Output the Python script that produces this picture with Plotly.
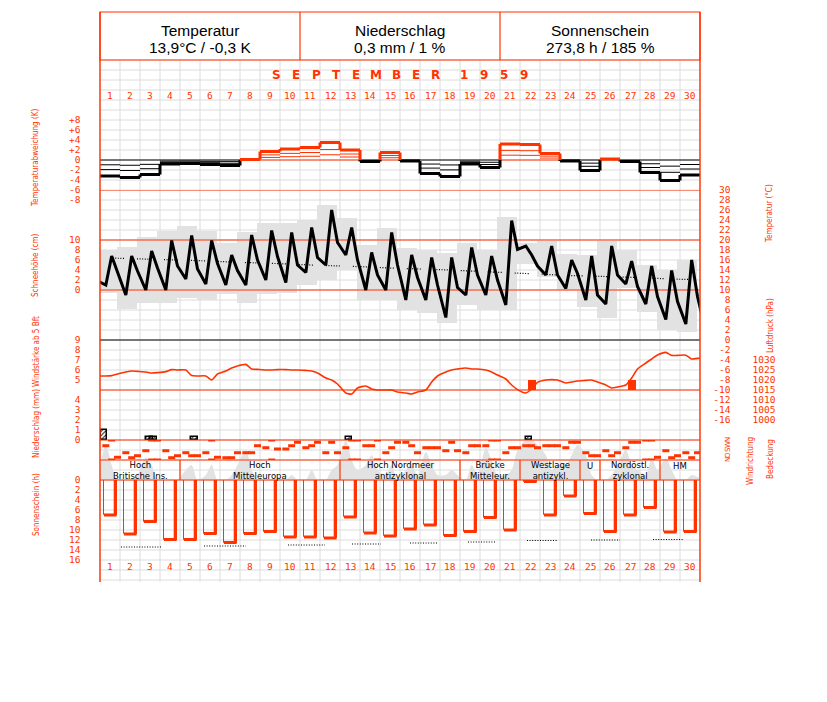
import plotly.graph_objects as go

W, H = 827, 702
RED = '#ff3300'
GRID = '#dcdcdc'
FILL = '#e2e2e2'
TICKFONT = 'DejaVu Sans Mono'
NARROW = 'Liberation Sans Narrow, DejaVu Sans Condensed, Arial Narrow, sans-serif'


def xp(px):
    return px / W


def yp(py):
    return 1 - py / H


# ---------------- data ----------------
days = list(range(1, 31))
obs_hours = [7, 14, 21]

header_titles = ['Temperatur', 'Niederschlag', 'Sonnenschein']
header_values = ['13,9°C / -0,3 K', '0,3 mm / 1 %', '273,8 h / 185 %']
month_title = 'SEPTEMBER'
year_title = '1959'

# daily temperature anomaly (K)
anom = [-3.2, -3.5, -2.9, -0.8, -0.7, -0.9, -1.1, 0.1, 1.7, 2.2,
        2.5, 3.5, 2.0, -0.3, 1.5, -0.2, -2.7, -3.3, -0.8, -1.5,
        3.2, 3.1, 1.3, -0.2, -2.1, 0.2, -0.3, -2.5, -4.1, -3.0]

# temperature at 7h, 14h, 21h (°C)
t07 = [11.0, 9.0, 10.0, 10.0, 12.2, 11.2, 11.0, 11.0, 12.0, 11.5,
       13.5, 15.0, 17.0, 10.0, 10.0, 8.0, 8.0, 4.5, 9.0, 9.0,
       7.0, 18.8, 13.0, 10.3, 8.0, 7.2, 11.2, 7.2, 4.1, 3.2]
t14 = [16.8, 16.8, 17.8, 19.9, 20.9, 19.9, 17.0, 21.0, 21.9, 21.5,
       22.5, 26.0, 22.5, 17.5, 21.5, 17.0, 16.5, 16.5, 18.5, 16.8,
       23.9, 17.0, 18.8, 16.0, 16.8, 18.8, 15.8, 14.8, 13.9, 16.0]
t21 = [13.4, 13.8, 14.4, 14.8, 14.2, 15.3, 13.9, 16.0, 16.7, 15.0,
       16.5, 19.5, 16.0, 13.0, 15.0, 12.5, 11.0, 10.5, 13.0, 12.0,
       18.1, 14.8, 13.0, 13.3, 9.0, 13.0, 10.7, 8.7, 7.7, 8.7]
t_prev21 = 11.8
t_next07 = 1.5

# daily extremes (°C)
tmax = [18.0, 18.7, 20.7, 21.9, 22.8, 21.9, 19.5, 21.7, 23.5, 23.5,
        24.0, 27.0, 24.5, 19.0, 22.5, 18.5, 18.0, 17.5, 19.5, 18.1,
        24.7, 19.5, 19.8, 17.2, 17.0, 19.8, 18.1, 15.0, 14.1, 16.0]
tmin = [9.4, 6.3, 7.5, 7.5, 8.5, 8.0, 9.3, 7.5, 9.3, 9.5,
        11.0, 12.0, 14.0, 8.0, 8.0, 6.0, 5.5, 3.5, 7.0, 6.0,
        6.0, 15.3, 12.7, 10.0, 6.7, 4.5, 10.5, 5.7, 2.0, 1.7]

# long-term mean temperature (°C)
t_norm = [16.4, 16.3, 16.2, 16.0, 15.9, 15.8, 15.6, 15.5, 15.3, 15.2,
          15.0, 14.9, 14.7, 14.6, 14.4, 14.3, 14.1, 14.0, 13.8, 13.6,
          13.4, 13.2, 13.1, 12.9, 12.8, 12.7, 12.5, 12.4, 12.2, 12.1]

# air pressure at 7h, 14h, 21h (hPa)
p07 = [1022.0, 1024.0, 1024.0, 1024.2, 1025.0, 1022.0, 1024.5, 1027.8, 1025.0, 1025.2,
       1024.8, 1021.0, 1013.5, 1017.0, 1015.0, 1013.5, 1015.0, 1024.0, 1026.0, 1025.0,
       1020.5, 1013.5, 1020.0, 1018.5, 1019.8, 1017.5, 1017.5, 1028.5, 1033.8, 1032.4]
p14 = [1022.2, 1024.5, 1023.5, 1025.2, 1022.2, 1020.0, 1026.0, 1025.5, 1025.0, 1025.0,
       1024.5, 1020.0, 1013.0, 1015.5, 1015.0, 1013.0, 1019.0, 1025.0, 1025.5, 1024.0,
       1017.5, 1015.5, 1020.2, 1019.0, 1020.0, 1016.0, 1021.0, 1030.5, 1032.3, 1030.5]
p21 = [1023.0, 1024.3, 1023.7, 1025.0, 1022.0, 1023.0, 1027.0, 1025.3, 1025.2, 1025.0,
       1023.5, 1018.0, 1016.0, 1015.0, 1014.0, 1014.0, 1022.0, 1025.5, 1025.5, 1022.5,
       1015.2, 1018.8, 1020.0, 1019.5, 1019.0, 1016.5, 1025.5, 1032.5, 1032.3, 1030.8]
p_prev21 = 1022.0
p_next07 = 1031.0

# wind force >= 5 Bft
wind_day = [22, 27]
wind_hour = [14, 14]
wind_bft = [5, 5]

# precipitation events
precip_day = [1, 3, 3, 5, 13, 22]
precip_hour = [4.5, 11.5, 16.0, 17.5, 10.5, 10.5]
precip_mm = [1.0, 0.3, 0.3, 0.3, 0.3, 0.3]

# wind direction at 7h, 14h, 21h (degrees, 0 = north)
wd07 = [257, 131, 167, 167, 131, 131, 41, 131, 221, 198,
        221, 131, 221, 257, 131, 319, 221, 167, 131, 257,
        131, 257, 257, 221, 131, 167, 221, 0, 167, 131]
wd14 = [0, 41, 0, 41, 77, 0, 41, 131, 0, 257,
        257, 319, 0, 257, 221, 257, 221, 319, 257, 0,
        221, 257, 257, 319, 77, 77, 319, 0, 41, 41]
wd21 = [49, 77, 0, 77, 77, 49, 131, 257, 198, 319,
        319, 131, 0, 0, 319, 131, 221, 167, 257, 0,
        221, 221, 257, 319, 77, 131, 319, 49, 77, 131]

# cloud cover at 7h, 14h, 21h (octas)
cc07 = [7, 0, 4.5, 0, 2, 1, 0, 6, 0, 0,
        0, 0, 8, 3, 1, 2, 5.6, 1, 0, 6.4,
        1, 8, 5, 3, 5, 0, 6, 1, 4.4, 0]
cc14 = [3, 0, 3, 0, 3, 3, 1, 2, 0, 1,
        2, 2, 4, 5, 3, 3, 3, 2, 3, 4,
        2, 8, 2, 5, 1, 1, 3, 4.4, 2, 1]
cc21 = [0, 1, 0, 0, 0, 0, 3, 0, 0, 0,
        0, 3, 2, 2, 0, 1, 1, 1, 1, 1,
        6, 7, 3, 7, 0, 3, 2, 2, 0, 0.6]

# sunshine duration (h)
sun = [7.0, 10.8, 8.3, 11.9, 11.9, 10.7, 12.5, 10.7, 10.3, 11.4,
       11.4, 11.6, 7.4, 10.6, 11.2, 9.8, 9.0, 11.1, 10.3, 7.5,
       10.0, 0.3, 7.0, 3.2, 6.7, 10.3, 7.0, 5.5, 10.4, 10.3]

# possible sunshine (h) for periods
sun_norm_start = [1.05, 5.2, 9.4, 12.6, 15.5, 18.4, 21.35, 24.55, 27.65]
sun_norm_end = [3.1, 7.3, 11.25, 14.05, 16.9, 19.8, 22.9, 26.0, 29.2]
sun_norm = [13.4, 13.2, 13.0, 12.8, 12.6, 12.4, 12.1, 12.0, 11.9]

# weather types
wt_start = [1, 5, 13, 19, 22, 25, 26, 29]
wt_end = [4, 12, 18, 21, 24, 25, 28, 30]
wt_line1 = ['Hoch', 'Hoch', 'Hoch Nordmeer', 'Brücke', 'Westlage', 'U', 'Nordöstl.', 'HM']
wt_line2 = ['Britische Ins.', 'Mitteleuropa', 'antizyklonal', 'Mitteleur.', 'antizykl.', '', 'zyklonal', '']

dir_labels = ['N', 'W', 'S', 'O', 'N']
dir_values = [360, 270, 180, 90, 0]


# ---------------- helpers ----------------
def obs_series(a07, a14, a21, prev=None, nxt=None):
    xs, ys = [], []
    if prev is not None:
        xs.append(-3 / 24)
        ys.append(prev)
    for i, d in enumerate(days):
        for h, arr in zip(obs_hours, (a07, a14, a21)):
            xs.append(d - 1 + h / 24)
            ys.append(arr[i])
    if nxt is not None:
        xs.append(30 + 7 / 24)
        ys.append(nxt)
    return xs, ys


fig = go.Figure()

# ---------- temperature anomaly (axis y) ----------
thick = {'red': ([], []), 'black': ([], [])}
thin = {'red': ([], []), 'black': ([], [])}


def add(dct, key, x, y):
    dct[key][0].extend(x + [None])
    dct[key][1].extend(y + [None])


for i, d in enumerate(days):
    a = anom[i]
    col = 'red' if a > 0 else 'black'
    add(thick, col, [d - 1, d], [a, a])
    for f in (0.0, 0.3, 0.6):
        add(thin, col, [d - 1, d], [a * f, a * f])
    if i < len(days) - 1:
        b = anom[i + 1]
        lo, hi = min(a, b), max(a, b)
        if hi > 0 and lo > 0:
            add(thick, 'red', [d, d], [lo, hi])
        elif hi <= 0:
            add(thick, 'black', [d, d], [lo, hi])
        else:
            add(thick, 'red', [d, d], [0, hi])
            if lo < 0:
                add(thick, 'black', [d, d], [lo, 0])

for key, c in (('black', 'black'), ('red', RED)):
    fig.add_trace(go.Scatter(x=thin[key][0], y=thin[key][1], mode='lines',
                             line=dict(color=c, width=1), yaxis='y', hoverinfo='skip'))
for key, c in (('black', 'black'), ('red', RED)):
    fig.add_trace(go.Scatter(x=thick[key][0], y=thick[key][1], mode='lines',
                             line=dict(color=c, width=3), yaxis='y', hoverinfo='skip'))

# ---------- temperature (axis y2) ----------
fig.add_trace(go.Bar(x=[d - 0.5 - 0.15 for d in days],
                     y=[mx - mn for mx, mn in zip(tmax, tmin)], base=tmin,
                     width=1.0, marker=dict(color=FILL, line=dict(width=0)),
                     yaxis='y2', hoverinfo='skip'))
for lvl, c in ((30, RED), (20, RED), (10, RED), (0, 'black'), (-10, RED)):
    fig.add_trace(go.Scatter(x=[0, 30], y=[lvl, lvl], mode='lines',
                             line=dict(color=c, width=1.2), yaxis='y2', hoverinfo='skip'))
dotdash = ','.join(['1px,1.6px'] * 5) + ',1px,13px'
fig.add_trace(go.Scatter(x=[d - 0.5 for d in days], y=t_norm, mode='lines',
                         line=dict(color='black', width=1.2, dash=dotdash),
                         yaxis='y2', hoverinfo='skip'))
tx, ty = obs_series(t07, t14, t21, t_prev21, t_next07)
fig.add_trace(go.Scatter(x=tx, y=ty, mode='lines', line=dict(color='black', width=3),
                         yaxis='y2', hoverinfo='skip'))

# ---------- snow axis (labels only, y3) ----------
fig.add_trace(go.Scatter(x=[0], y=[0], mode='lines', yaxis='y3', hoverinfo='skip'))

# ---------- pressure (y4) ----------
px_, py_ = obs_series(p07, p14, p21, p_prev21, p_next07)
fig.add_trace(go.Scatter(x=px_, y=py_, mode='lines',
                         line=dict(color=RED, width=1.6, shape='spline', smoothing=0.6),
                         yaxis='y4', hoverinfo='skip'))

# ---------- wind force (y5) ----------
fig.add_trace(go.Bar(x=[d - 1 + h / 24 for d, h in zip(wind_day, wind_hour)],
                     y=[b - 4 for b in wind_bft], base=[4] * len(wind_bft), width=0.4,
                     marker=dict(color=RED, line=dict(width=0)), yaxis='y5', hoverinfo='skip'))

# ---------- precipitation (y6) ----------
fig.add_trace(go.Bar(x=[d - 1 + h / 24 for d, h in zip(precip_day, precip_hour)],
                     y=precip_mm, width=0.32,
                     marker=dict(color='white', line=dict(color='black', width=1.5),
                                 pattern=dict(shape='/', fgcolor='black', size=3, solidity=0.3)),
                     yaxis='y6', hoverinfo='skip'))

# ---------- cloud cover (y7) ----------
cx, cy = obs_series(cc07, cc14, cc21, 0, 0)
fig.add_trace(go.Scatter(x=cx, y=cy, mode='lines', fill='tozeroy', fillcolor=FILL,
                         line=dict(width=0, color=FILL, shape='spline', smoothing=0.8),
                         yaxis='y7', hoverinfo='skip'))

# ---------- wind direction (y8) ----------
wx, wy = obs_series(wd07, wd14, wd21)
mx_, my_ = [], []
for x, v in zip(wx, wy):
    if v % 360 == 0:
        mx_ += [x, x]
        my_ += [0, 360]
    else:
        mx_.append(x)
        my_.append(v)
fig.add_trace(go.Scatter(x=mx_, y=my_, mode='markers',
                         marker=dict(symbol='line-ew', size=5, line=dict(color=RED, width=3)),
                         yaxis='y8', hoverinfo='skip'))

# ---------- sunshine (y9) ----------
sun_x = [d - 0.5 + 0.015 for d in days]
fig.add_trace(go.Bar(x=sun_x, y=sun, width=0.63,
                     marker=dict(color='rgba(0,0,0,0)', line=dict(color=RED, width=1)),
                     yaxis='y9', hoverinfo='skip'))
ex, ey = [], []
for x, s in zip(sun_x, sun):
    xr = x + 0.315 - 0.07
    ex += [xr, xr, None, x - 0.315, x + 0.315, None]
    ey += [0, s, None, s, s, None]
fig.add_trace(go.Scatter(x=ex, y=ey, mode='lines', line=dict(color=RED, width=3),
                         yaxis='y9', hoverinfo='skip'))
nx, ny = [], []
for a, b, v in zip(sun_norm_start, sun_norm_end, sun_norm):
    nx += [a, b, None]
    ny += [v, v, None]
fig.add_trace(go.Scatter(x=nx, y=ny, mode='lines',
                         line=dict(color='black', width=1.2, dash='1px,1.6px'),
                         yaxis='y9', hoverinfo='skip'))


# ---------------- axes ----------------
def yax(top, bottom, rng, tickvals=None, ticktext=None, pos=80.5):
    ax = dict(domain=[yp(bottom), yp(top)], range=rng, showgrid=False, zeroline=False,
              showline=False, ticks='', fixedrange=True, anchor='free',
              position=xp(pos), side='left')
    if tickvals is None:
        ax['showticklabels'] = False
    else:
        ax.update(tickmode='array', tickvals=tickvals, ticktext=ticktext,
                  showticklabels=True, tickfont=dict(family=TICKFONT, size=9.5, color=RED))
    return ax


def lbl(v, plus=False):
    if v > 0 and plus:
        return '+' + str(v)
    if v < 0:
        return '-' + str(-v)
    return str(v)


k_vals = list(range(-8, 9, 2))
t_vals = list(range(-16, 31, 2))
layout_axes = dict(
    yaxis=yax(100, 200, [-8, 12], k_vals, [lbl(v, True) for v in k_vals]),
    yaxis2=yax(190, 420, [-16, 30], t_vals, [lbl(v) for v in t_vals], pos=730.5),
    yaxis3=yax(240, 290, [0, 10], list(range(0, 11, 2)), [str(v) for v in range(0, 11, 2)]),
    yaxis4=yax(340, 420, [1000, 1040], list(range(1000, 1031, 5)),
               [str(v) for v in range(1000, 1031, 5)], pos=775.5),
    yaxis5=yax(340, 390, [4, 9], [5, 6, 7, 8, 9], ['5', '6', '7', '8', '9']),
    yaxis6=yax(390, 440, [0, 5], [0, 1, 2, 3, 4], ['0', '1', '2', '3', '4']),
    yaxis7=yax(440, 480, [0, 8]),
    yaxis8=yax(440, 460, [0, 360]),
    yaxis9=yax(480, 560, [16, 0], list(range(0, 17, 2)), [str(v) for v in range(0, 17, 2)]),
)

# ---------------- shapes ----------------
shapes = []
for d in range(0, 31):
    shapes.append(dict(type='line', xref='paper', yref='paper', x0=xp(100 + 20 * d),
                       x1=xp(100 + 20 * d), y0=yp(60), y1=yp(582),
                       line=dict(color=GRID, width=1), layer='below'))
for py in range(60, 590, 10):
    shapes.append(dict(type='line', xref='paper', yref='paper', x0=xp(100), x1=xp(700),
                       y0=yp(py), y1=yp(py), line=dict(color=GRID, width=1), layer='below'))
for py in (440, 460, 480):
    shapes.append(dict(type='line', xref='paper', yref='paper', x0=xp(100), x1=xp(700),
                       y0=yp(py), y1=yp(py), line=dict(color=RED, width=1.2), layer='above'))
for e in wt_end[:-1]:
    shapes.append(dict(type='line', xref='x', yref='paper', x0=e, x1=e, y0=yp(460), y1=yp(480),
                       line=dict(color=RED, width=1.2), layer='above'))
# header & frame
shapes.append(dict(type='rect', xref='paper', yref='paper', x0=xp(100), x1=xp(700),
                   y0=yp(60), y1=yp(12), line=dict(color=RED, width=1.2), layer='above'))
for px in (300, 500):
    shapes.append(dict(type='line', xref='paper', yref='paper', x0=xp(px), x1=xp(px),
                       y0=yp(60), y1=yp(12), line=dict(color=RED, width=1.2), layer='above'))
for px in (100, 700):
    shapes.append(dict(type='line', xref='paper', yref='paper', x0=xp(px), x1=xp(px),
                       y0=yp(582), y1=yp(12), line=dict(color=RED, width=1.4), layer='above'))

# ---------------- annotations ----------------
ann = []


def A(text, x, y, xref='paper', yref='paper', **kw):
    d = dict(text=text, x=x, y=y, xref=xref, yref=yref, showarrow=False,
             xanchor='center', yanchor='middle')
    d.update(kw)
    ann.append(d)


HFONT = dict(family='Liberation Sans, Arial', size=15.5, color='black')
for i, (t, v) in enumerate(zip(header_titles, header_values)):
    cxp = 200 + 200 * i
    A(t, xp(cxp), yp(31), font=HFONT)
    A(v, xp(cxp), yp(47.5), font=HFONT)
MFONT = dict(family='DejaVu Sans', size=12, color=RED, weight='bold')
for j, ch in enumerate(month_title):
    A(ch, xp(276 + 20 * j), yp(75), font=MFONT)
for j, ch in enumerate(year_title):
    A(ch, xp(464 + 20 * j), yp(75), font=MFONT)
for d in days:
    for py in (95, 566):
        A(str(d), d - 0.5, yp(py), xref='x', font=dict(family=TICKFONT, size=9.5, color=RED))
WTFONT = dict(family='DejaVu Sans', size=8.5, color='black')
for s, e, l1, l2 in zip(wt_start, wt_end, wt_line1, wt_line2):
    c = (s - 1 + e) / 2
    if l2:
        A(l1 + '<br>' + l2, c, yp(470), xref='x', font=WTFONT)
    else:
        A(l1, c, yp(465.5), xref='x', font=WTFONT)
for t, v in zip(dir_labels, dir_values):
    A(t, xp(728), v, yref='y8', textangle=-90,
      font=dict(family='DejaVu Sans', size=7, color=RED))
titles = [('Temperaturabweichung (K)', 36, 158), ('Schneehöhe (cm)', 36, 265),
          ('Windstärke ab 5 Bft', 36, 352), ('Niederschlag (mm)', 36, 424),
          ('Sonnenschein (h)', 36, 505), ('Temperatur (°C)', 770, 214),
          ('Luftdruck (hPa)', 770, 326), ('Windrichtung', 750, 461), ('Bedeckung', 770, 459)]
for t, x, y in titles:
    A(t, xp(x), yp(y), textangle=-90, font=dict(family=NARROW, size=8, color=RED))

fig.update_layout(
    width=W, height=H, autosize=False, template='none',
    margin=dict(l=0, r=0, t=0, b=0, pad=0),
    paper_bgcolor='white', plot_bgcolor='rgba(0,0,0,0)',
    showlegend=False, barmode='overlay', bargap=0,
    xaxis=dict(domain=[xp(100), xp(700)], range=[0, 30], showgrid=False, zeroline=False,
               showline=False, showticklabels=False, ticks='', fixedrange=True, anchor='y9'),
    shapes=shapes, annotations=ann,
    **layout_axes,
)

fig.write_html('out.html', config={'displayModeBar': False},
               post_script="document.body.style.margin='0px';")
